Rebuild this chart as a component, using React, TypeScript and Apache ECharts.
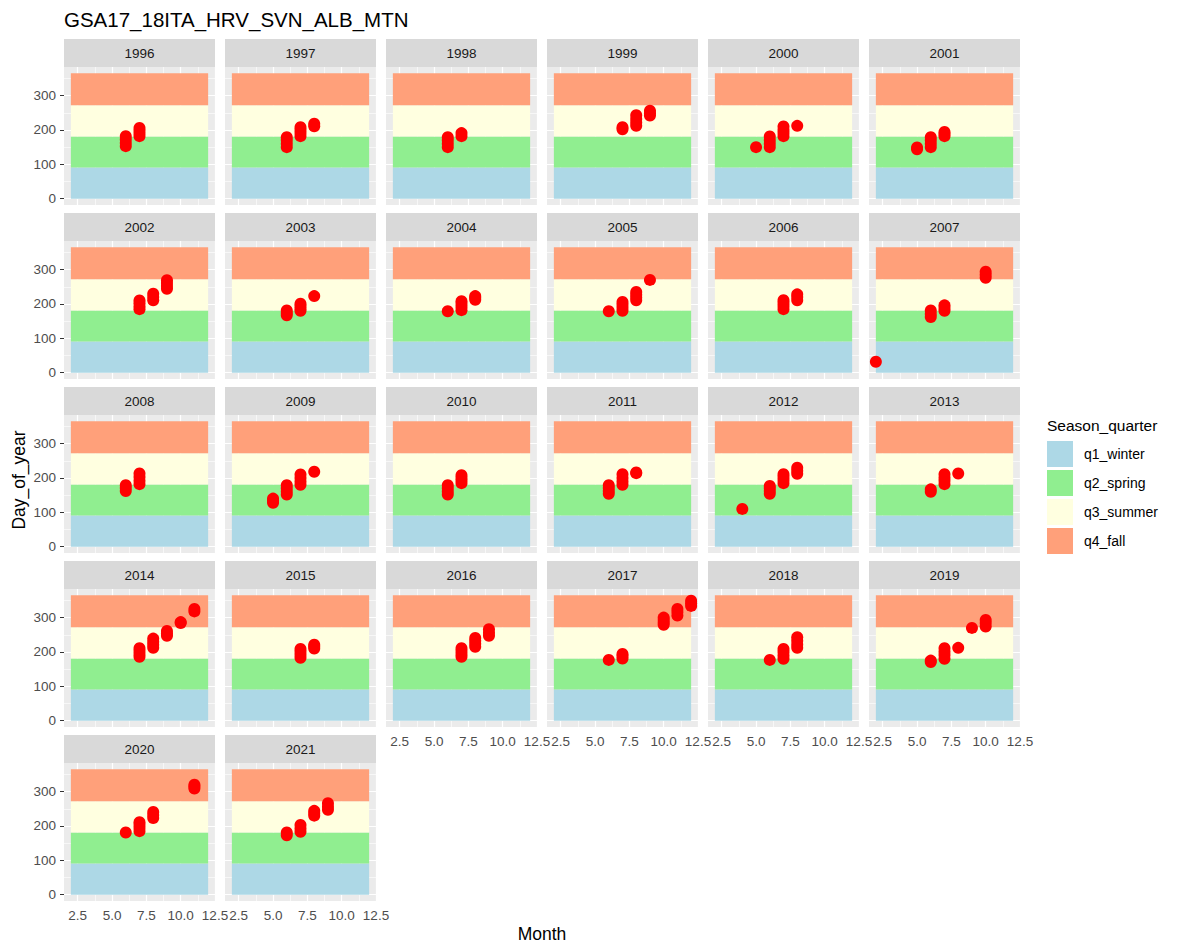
import React, { useEffect, useRef } from "react";
import * as echarts from "echarts";

// ---------- data ----------
const years = [
  "1996", "1997", "1998", "1999", "2000", "2001",
  "2002", "2003", "2004", "2005", "2006", "2007",
  "2008", "2009", "2010", "2011", "2012", "2013",
  "2014", "2015", "2016", "2017", "2018", "2019",
  "2020", "2021",
];

// [Month, Day_of_year]
const y1996 = [[6,153],[6,162],[6,172],[6,182],[7,182],[7,190],[7,198],[7,206]];
const y1997 = [[6,150],[6,160],[6,170],[6,179],[7,182],[7,191],[7,200],[7,208],[8,211],[8,218]];
const y1998 = [[6,150],[6,160],[6,170],[6,179],[7,182],[7,191]];
const y1999 = [[7,202],[7,208],[8,212],[8,222],[8,232],[8,243],[9,242],[9,249],[9,256]];
const y2000 = [[5,150],[6,150],[6,160],[6,170],[6,181],[7,182],[7,191],[7,200],[7,210],[8,212]];
const y2001 = [[5,144],[5,149],[6,150],[6,160],[6,170],[6,179],[7,182],[7,188],[7,194]];
const y2002 = [[7,185],[7,193],[7,202],[7,210],[8,211],[8,220],[8,230],[9,244],[9,252],[9,261],[9,269]];
const y2003 = [[6,167],[6,174],[6,181],[7,180],[7,187],[7,194],[7,201],[8,223]];
const y2004 = [[6,179],[7,182],[7,191],[7,200],[7,208],[8,212],[8,218],[8,223]];
const y2005 = [[6,179],[7,180],[7,189],[7,198],[7,206],[8,211],[8,219],[8,227],[8,235],[9,270]];
const y2006 = [[7,185],[7,194],[7,203],[7,211],[8,211],[8,220],[8,228]];
const y2007 = [[2,32],[6,162],[6,171],[6,181],[7,180],[7,188],[7,196],[10,276],[10,285],[10,294]];
const y2008 = [[6,162],[6,171],[6,179],[7,182],[7,192],[7,203],[7,213]];
const y2009 = [[5,128],[5,134],[5,140],[6,152],[6,161],[6,170],[6,179],[7,180],[7,190],[7,200],[7,210],[8,218]];
const y2010 = [[6,152],[6,161],[6,170],[6,179],[7,185],[7,193],[7,200],[7,208]];
const y2011 = [[6,154],[6,162],[6,171],[6,179],[7,180],[7,190],[7,200],[7,211],[8,214],[8,216]];
const y2012 = [[4,110],[6,154],[6,162],[6,170],[6,177],[7,185],[7,194],[7,203],[7,211],[8,212],[8,221],[8,230]];
const y2013 = [[6,160],[6,167],[7,182],[7,192],[7,201],[7,211],[8,213]];
const y2014 = [[7,186],[7,194],[7,203],[7,211],[8,212],[8,221],[8,230],[8,239],[9,247],[9,254],[9,261],[10,284],[10,287],[11,318],[11,325]];
const y2015 = [[7,183],[7,192],[7,201],[7,209],[8,210],[8,216],[8,221]];
const y2016 = [[7,186],[7,194],[7,203],[7,211],[8,215],[8,224],[8,233],[8,241],[9,247],[9,256],[9,266]];
const y2017 = [[6,177],[7,181],[7,188],[7,194],[10,279],[10,286],[10,293],[10,300],[11,306],[11,316],[11,325],[12,334],[12,342],[12,349]];
const y2018 = [[6,177],[7,180],[7,190],[7,200],[7,209],[8,212],[8,222],[8,233],[8,243]];
const y2019 = [[6,171],[6,175],[7,180],[7,191],[7,201],[7,211],[8,212],[9,270],[10,274],[10,284],[10,293]];
const y2020 = [[6,181],[7,185],[7,194],[7,203],[7,211],[8,223],[8,232],[8,241],[11,309],[11,315],[11,320]];
const y2021 = [[6,173],[6,181],[7,183],[7,193],[7,203],[8,230],[8,237],[8,244],[9,247],[9,256],[9,266]];

const yearData = [
  y1996, y1997, y1998, y1999, y2000, y2001,
  y2002, y2003, y2004, y2005, y2006, y2007,
  y2008, y2009, y2010, y2011, y2012, y2013,
  y2014, y2015, y2016, y2017, y2018, y2019,
  y2020, y2021,
];

const seasonNames = ["q1_winter", "q2_spring", "q3_summer", "q4_fall"];
const seasonStart = [0, 91, 181, 272];
const seasonEnd = [91, 181, 272, 365];
const bandMonthStart = 2;
const bandMonthEnd = 12;

const xTickValues = [2.5, 5, 7.5, 10, 12.5];
const xMinorValues = [3.75, 6.25, 8.75, 11.25];
const yTickValues = [0, 100, 200, 300];
const yMinorValues = [50, 150, 250, 350];

// ---------- styles ----------
const seasonColors = ["#ADD8E6", "#90EE90", "#FFFFE0", "#FFA07A"];
const FONT = "'Liberation Sans', Arial, sans-serif";
const NCOL = 6;
const PANEL_LEFT = 64;
const COL_STEP = 161;
const PANEL_W = 151;
const STRIP_TOP = 39;
const ROW_STEP = 174;
const STRIP_H = 28;
const PANEL_H = 138;

export default function App() {
  const ref = useRef<HTMLDivElement>(null);

  useEffect(() => {
    if (!ref.current) return;
    const chart = echarts.init(ref.current, null, { renderer: "svg" });
    const n = years.length;
    const grids: any[] = [];
    const xAxes: any[] = [];
    const yAxes: any[] = [];
    const series: any[] = [];
    const graphics: any[] = [];

    for (let i = 0; i < n; i++) {
      const row = Math.floor(i / NCOL);
      const col = i % NCOL;
      const isBottom = i + NCOL >= n;
      const isLeft = col === 0;
      const left = PANEL_LEFT + COL_STEP * col;
      const stripTop = STRIP_TOP + ROW_STEP * row;
      grids.push({
        left,
        top: stripTop + STRIP_H,
        width: PANEL_W,
        height: PANEL_H,
        show: true,
        backgroundColor: "#EBEBEB",
        borderWidth: 0,
      });
      xAxes.push({
        gridIndex: i,
        type: "value",
        min: 1.5,
        max: 12.5,
        axisLine: { show: false },
        splitLine: { show: false },
        axisTick: {
          show: isBottom,
          length: 4,
          customValues: xTickValues,
          lineStyle: { color: "#333333", width: 1 },
        },
        axisLabel: {
          show: isBottom,
          customValues: xTickValues,
          formatter: (v: number) => v.toFixed(1),
          color: "#4D4D4D",
          fontSize: 13.5,
          fontFamily: FONT,
          margin: 7,
        },
      });
      yAxes.push({
        gridIndex: i,
        type: "value",
        min: -18.25,
        max: 383.25,
        axisLine: { show: false },
        splitLine: { show: false },
        axisTick: {
          show: isLeft,
          length: 4,
          customValues: yTickValues,
          lineStyle: { color: "#333333", width: 1 },
        },
        axisLabel: {
          show: isLeft,
          customValues: yTickValues,
          color: "#4D4D4D",
          fontSize: 13.5,
          fontFamily: FONT,
          margin: 8,
        },
      });

      // grid lines
      const lineData: any[] = [];
      xTickValues.forEach((v) => lineData.push({ xAxis: v, lineStyle: { color: "#FFFFFF", width: 1.2, type: "solid" } }));
      xMinorValues.forEach((v) => lineData.push({ xAxis: v, lineStyle: { color: "#FFFFFF", width: 0.6, type: "solid" } }));
      yTickValues.forEach((v) => lineData.push({ yAxis: v, lineStyle: { color: "#FFFFFF", width: 1.2, type: "solid" } }));
      yMinorValues.forEach((v) => lineData.push({ yAxis: v, lineStyle: { color: "#FFFFFF", width: 0.6, type: "solid" } }));
      series.push({
        type: "scatter",
        xAxisIndex: i,
        yAxisIndex: i,
        data: [],
        z: 1,
        silent: true,
        markLine: {
          silent: true,
          z: 1,
          symbol: ["none", "none"],
          label: { show: false },
          emphasis: { disabled: true },
          data: lineData,
        },
      });
      // season bands
      series.push({
        type: "scatter",
        xAxisIndex: i,
        yAxisIndex: i,
        data: [],
        z: 2,
        silent: true,
        markArea: {
          silent: true,
          z: 2,
          label: { show: false },
          emphasis: { disabled: true, label: { show: false } },
          data: seasonNames.map((name, k) => [
            { xAxis: bandMonthStart, yAxis: seasonStart[k], itemStyle: { color: seasonColors[k], opacity: 1, borderWidth: 0 } },
            { xAxis: bandMonthEnd, yAxis: seasonEnd[k] },
          ]),
        },
      });
      // points
      series.push({
        type: "scatter",
        xAxisIndex: i,
        yAxisIndex: i,
        z: 5,
        symbol: "circle",
        symbolSize: 12,
        itemStyle: { color: "#FF0000", opacity: 1 },
        emphasis: { disabled: true },
        data: yearData[i],
      });

      // strip
      graphics.push({
        type: "rect",
        shape: { x: left, y: stripTop, width: PANEL_W, height: STRIP_H },
        style: { fill: "#D9D9D9" },
        silent: true,
      });
      graphics.push({
        type: "text",
        x: left + PANEL_W / 2,
        y: stripTop + STRIP_H / 2,
        style: {
          text: years[i],
          fill: "#1A1A1A",
          fontSize: 13.5,
          fontFamily: FONT,
          align: "center",
          verticalAlign: "middle",
        },
        silent: true,
      });
    }

    // title
    graphics.push({
      type: "text",
      x: 64,
      y: 19,
      style: {
        text: "GSA17_18ITA_HRV_SVN_ALB_MTN",
        fill: "#000000",
        fontSize: 20.5,
        fontFamily: FONT,
        align: "left",
        verticalAlign: "middle",
      },
    });
    // axis titles
    graphics.push({
      type: "text",
      x: 542,
      y: 934,
      style: { text: "Month", fill: "#000000", fontSize: 17.5, fontFamily: FONT, align: "center", verticalAlign: "middle" },
    });
    graphics.push({
      type: "text",
      x: 19,
      y: 480,
      rotation: Math.PI / 2,
      style: { text: "Day_of_year", fill: "#000000", fontSize: 17.5, fontFamily: FONT, align: "center", verticalAlign: "middle" },
    });
    // legend
    graphics.push({
      type: "text",
      x: 1047,
      y: 425,
      style: { text: "Season_quarter", fill: "#000000", fontSize: 15.5, fontFamily: FONT, align: "left", verticalAlign: "middle" },
    });
    seasonNames.forEach((name, k) => {
      const top = 441 + 29 * k;
      graphics.push({
        type: "rect",
        shape: { x: 1047, y: top, width: 26, height: 26 },
        style: { fill: seasonColors[k] },
      });
      graphics.push({
        type: "text",
        x: 1084,
        y: top + 13,
        style: { text: name, fill: "#000000", fontSize: 14, fontFamily: FONT, align: "left", verticalAlign: "middle" },
      });
    });

    chart.setOption({
      animation: false,
      backgroundColor: "#FFFFFF",
      grid: grids,
      xAxis: xAxes,
      yAxis: yAxes,
      series,
      graphic: { elements: graphics },
    });
    return () => chart.dispose();
  }, []);

  return (
    <div
      ref={ref}
      style={{ position: "absolute", left: 0, top: 0, width: 1182, height: 946 }}
    />
  );
}
